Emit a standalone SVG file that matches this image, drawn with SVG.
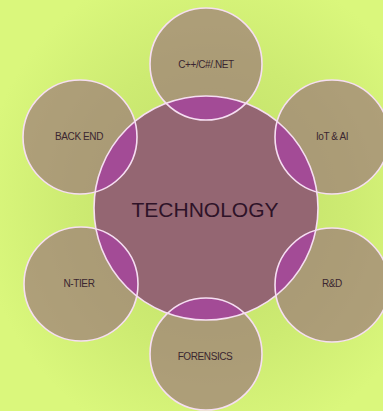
<svg xmlns="http://www.w3.org/2000/svg" width="383" height="411" viewBox="0 0 383 411">
<defs>
<radialGradient id="bg" cx="0.55" cy="0.5" r="0.6">
<stop offset="0" stop-color="#bfdc68"/>
<stop offset="0.6" stop-color="#cdeb72"/>
<stop offset="1" stop-color="#daf77c"/>
</radialGradient>
<clipPath id="core"><circle cx="206" cy="208" r="112"/></clipPath>
<style>
.outer{fill:#95687a;fill-opacity:0.6}
.ring{fill:none;stroke:#f6def2;stroke-width:1.6}
.lens{fill:#a4489a;fill-opacity:0.9}
.lbl{font-family:"Liberation Sans",Arial,sans-serif;font-size:10px;fill:#3a2630;text-anchor:middle;letter-spacing:-0.4px}
.big{font-family:"Liberation Sans",Arial,sans-serif;font-size:21px;fill:#2e1328;text-anchor:middle}
</style>
</defs>
<rect width="383" height="411" fill="url(#bg)"/>
<g id="center">
<circle cx="206" cy="208" r="112" fill="#946672"/>
</g>
<g id="n-cpp">
<circle class="outer" cx="206" cy="64" r="56"/>
<circle class="lens" cx="206" cy="64" r="56" clip-path="url(#core)"/>
<circle class="ring" cx="206" cy="64" r="56"/>
<text class="lbl" x="206" y="68">C++/C#/.NET</text>
</g>
<g id="n-backend">
<circle class="outer" cx="80" cy="137" r="57" fill-opacity="0.45"/>
<circle class="lens" cx="80" cy="137" r="57" clip-path="url(#core)"/>
<circle class="ring" cx="80" cy="137" r="57"/>
<text class="lbl" x="79" y="140">BACK END</text>
</g>
<g id="n-iot">
<circle class="outer" cx="332" cy="137" r="57"/>
<circle class="lens" cx="332" cy="137" r="57" clip-path="url(#core)"/>
<circle class="ring" cx="332" cy="137" r="57"/>
<text class="lbl" x="332" y="140">IoT &amp; AI</text>
</g>
<g id="n-ntier">
<circle class="outer" cx="81" cy="284" r="57" fill-opacity="0.5"/>
<circle class="lens" cx="81" cy="284" r="57" clip-path="url(#core)"/>
<circle class="ring" cx="81" cy="284" r="57"/>
<text class="lbl" x="79" y="287">N-TIER</text>
</g>
<g id="n-rd">
<circle class="outer" cx="332" cy="285" r="57"/>
<circle class="lens" cx="332" cy="285" r="57" clip-path="url(#core)"/>
<circle class="ring" cx="332" cy="285" r="57"/>
<text class="lbl" x="332" y="287">R&amp;D</text>
</g>
<g id="n-forensics">
<circle class="outer" cx="206" cy="354" r="56"/>
<circle class="lens" cx="206" cy="354" r="56" clip-path="url(#core)"/>
<circle class="ring" cx="206" cy="354" r="56"/>
<text class="lbl" x="205" y="360">FORENSICS</text>
</g>
<g id="center-ring">
<circle class="ring" cx="206" cy="208" r="112"/>
<text class="big" x="205" y="217">TECHNOLOGY</text>
</g>
<g id="connectors"></g>
</svg>
